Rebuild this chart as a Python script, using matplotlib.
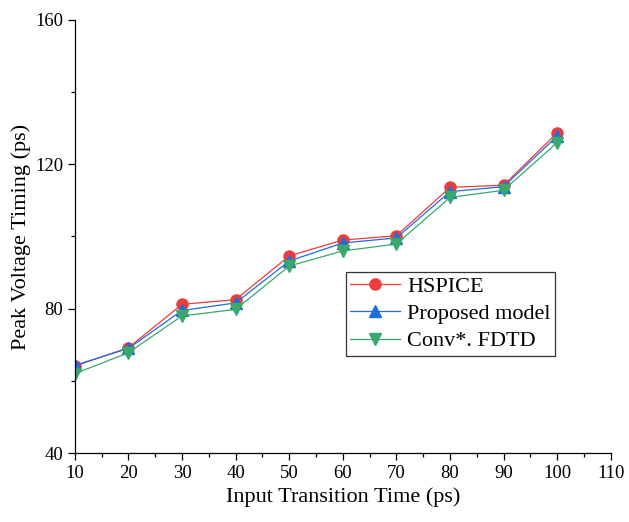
import numpy as np
import matplotlib.pyplot as plt

plt.rcParams['font.family'] = ['Liberation Serif', 'DejaVu Serif']

# Input transition time (ps)
x = [10, 20, 30, 40, 50, 60, 70, 80, 90, 100]

# Peak voltage timing (ps)
hspice = [64.1, 69.2, 81.2, 82.5, 94.6, 99.0, 100.2, 113.6, 114.2, 128.7]
proposed = [64.3, 69.0, 79.5, 81.6, 93.2, 98.2, 99.6, 112.4, 113.8, 127.8]
fdtd = [62.0, 67.8, 78.0, 79.8, 91.8, 96.0, 97.9, 110.8, 112.8, 126.0]

labels = ['HSPICE', 'Proposed model', 'Conv*. FDTD']

fig = plt.figure(figsize=(6.29, 5.22), dpi=100)
ax = fig.add_axes([0.119, 0.132, 0.852, 0.830])

ax.plot(x, hspice, color='#EE3B3B', lw=0.9, marker='o', ms=8, label=labels[0])
ax.plot(x, proposed, color='#1E6FDC', lw=0.9, marker='^', ms=8.5, label=labels[1])
ax.plot(x, fdtd, color='#3AA86B', lw=0.9, marker='v', ms=8.5, label=labels[2])

ax.set_xlim(10, 110)
ax.set_ylim(40, 160)
ax.set_xticks(np.arange(10, 111, 10))
ax.set_xticks(np.arange(15, 110, 10), minor=True)
ax.set_yticks([40, 80, 120, 160])
ax.set_yticks([60, 100, 140], minor=True)
ax.tick_params(which='major', direction='out', length=5, width=0.9, labelsize=13.5)
ax.tick_params(which='minor', direction='out', length=3, width=0.9)

for s in ['top', 'right']:
    ax.spines[s].set_visible(False)
for s in ['left', 'bottom']:
    ax.spines[s].set_linewidth(0.9)

ax.set_xlabel('Input Transition Time (ps)', fontsize=16, labelpad=4)
ax.set_ylabel('Peak Voltage Timing (ps)', fontsize=16, labelpad=3)

leg = ax.legend(loc='upper left', bbox_to_anchor=(0.506, 0.418), fontsize=16,
                frameon=True, fancybox=False, edgecolor='black',
                handlelength=2.25, borderpad=0.2, labelspacing=0.3,
                handletextpad=0.3, borderaxespad=0)
leg.get_frame().set_linewidth(0.9)

fig.savefig('out.png', dpi=100)
